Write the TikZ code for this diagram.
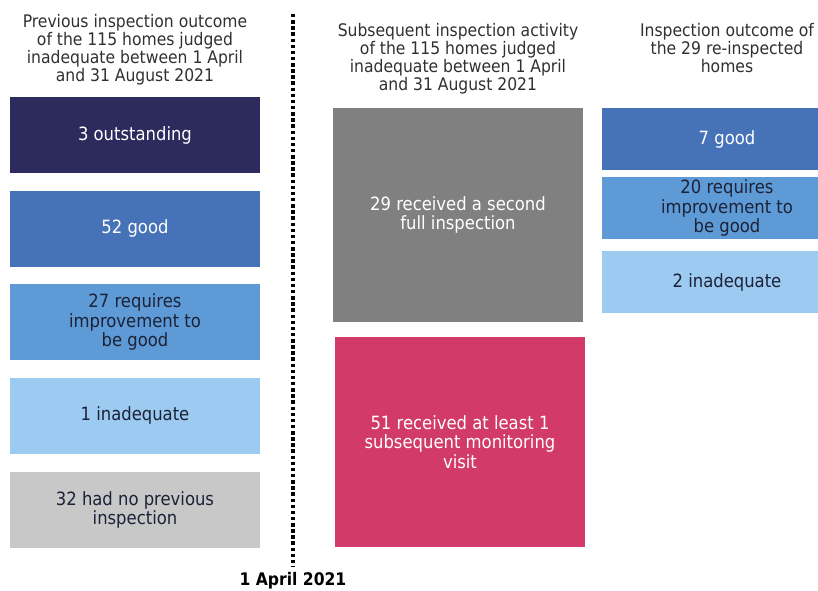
\documentclass[tikz,border=0pt]{standalone}
\usepackage{fontspec}
\setmainfont{DejaVu Sans Condensed}
\usetikzlibrary{positioning}
\definecolor{navy}{HTML}{2D2B5E}
\definecolor{goodblue}{HTML}{4672B8}
\definecolor{reqblue}{HTML}{5E9BD6}
\definecolor{inadblue}{HTML}{9DCAF0}
\definecolor{noneGrey}{HTML}{C8C8C8}
\definecolor{fullGrey}{HTML}{808080}
\definecolor{visitPink}{HTML}{D23A69}
\definecolor{darkink}{HTML}{1C2237}
\definecolor{headink}{HTML}{303030}
\newcommand\labelfont{\fontsize{13.7}{14.4}\selectfont}
\tikzset{box/.style = {rectangle, inner sep=0pt, align=center,
                       minimum width=187.5pt, minimum height=57pt,
                       font=\labelfont, text=white},
         shortbox/.style = {box, minimum height=46.5pt},
         lighttext/.style = {text=darkink},
         head/.style = {align=center, inner sep=0pt, anchor=north,
                        font=\fontsize{13}{13.5}\selectfont, text=headink}}

\begin{document}
\begin{tikzpicture}[x=0.75pt, y=-0.75pt]
    \useasboundingbox (0, 0) rectangle (818, 591);

    % before 1 April 2021
    \node (prevhead) at (135, 14) [head]
      {Previous inspection outcome\\of the 115 homes judged\\inadequate between 1 April\\and 31 August 2021};
    \node (outstanding) at (135, 135) [box, fill=navy] {3 outstanding};
    \node (good) [box, fill=goodblue, below=12.75pt of outstanding] {52 good};
    \node (requires) [box, fill=reqblue, lighttext, below=12.75pt of good]
      {27 requires\\improvement to\\be good};
    \node (inadequate) [box, fill=inadblue, lighttext, below=12.75pt of requires] {1 inadequate};
    \node (noprevious) [box, fill=noneGrey, lighttext, below=13.5pt of inadequate]
      {32 had no previous\\inspection};

    % the date line
    \coordinate (datetop) at (293, 14);
    \node (date) at (293, 581) [font=\fontsize{13}{14}\selectfont\bfseries, inner sep=1pt] {1 April 2021};
    \draw [line width=2.6pt, dash pattern=on 2.6pt off 2pt] (datetop) -- ([yshift=3pt]date.north);

    % after
    \node (subhead) at (458, 23) [head]
      {Subsequent inspection activity\\of the 115 homes judged\\inadequate between 1 April\\and 31 August 2021};
    \node (fullinsp) at (458, 215) [box, fill=fullGrey, minimum height=160.5pt]
      {29 received a second\\full inspection};
    \node (monitoring) at (460, 442) [box, fill=visitPink, minimum height=157.5pt]
      {51 received at least 1\\subsequent monitoring\\visit};

    % re-inspected homes
    \node (rehead) at (727, 23) [head]
      {Inspection outcome of\\the 29 re-inspected\\homes};
    \node (regood) at (727, 139) [shortbox, fill=goodblue] {7 good};
    \node (rerequires) at (727, 208) [shortbox, fill=reqblue, lighttext]
      {20 requires\\improvement to\\be good};
    \node (reinadequate) at (727, 282.5) [shortbox, fill=inadblue, lighttext] {2 inadequate};
\end{tikzpicture}
\end{document}
